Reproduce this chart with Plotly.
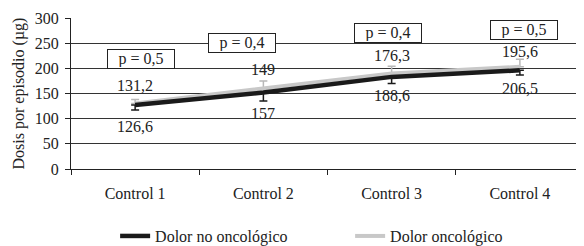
import plotly.graph_objects as go

categories = ["Control 1", "Control 2", "Control 3", "Control 4"]

# Plotted positions
no_onc_values = [127, 152, 183, 196]
onc_values = [130, 160, 190, 203]
no_onc_err_minus = [10, 17, 13, 9]
onc_err_plus = [8, 15, 14, 15]

# Printed data labels
no_onc_labels = ["126,6", "157", "188,6", "206,5"]
onc_labels = ["131,2", "149", "176,3", "195,6"]

# p-values
p_labels = ["p = 0,5", "p = 0,4", "p = 0,4", "p = 0,5"]
p_y = [219, 250, 271, 277]
p_xshift = [6, -21, -4, 4]
onc_label_shift = [18, 19, 18, 15]
no_onc_label_shift = [-21, -21, -19, -18]

y_ticks = [0, 50, 100, 150, 200, 250, 300]

FONT = "Liberation Serif"
TXT = "#222222"

fig = go.Figure()

fig.add_trace(go.Scatter(
    x=categories, y=onc_values, mode="lines", name="Dolor oncológico",
    line=dict(color="#c8c8c8", width=4), legendrank=2,
    error_y=dict(type="data", symmetric=False, array=onc_err_plus,
                 arrayminus=[0, 0, 0, 0], color="#b8b8b8", thickness=1.5, width=4),
))
fig.add_trace(go.Scatter(
    x=categories, y=no_onc_values, mode="lines", name="Dolor no oncológico",
    line=dict(color="#1a1a1a", width=4.5), legendrank=1,
    error_y=dict(type="data", symmetric=False, array=[0, 0, 0, 0],
                 arrayminus=no_onc_err_minus, color="#1a1a1a", thickness=1.5, width=4),
))

annotations = []
for c, v, t, s in zip(categories, no_onc_values, no_onc_labels, no_onc_label_shift):
    annotations.append(dict(x=c, y=v, text=t, showarrow=False, yshift=s,
                            font=dict(family=FONT, size=16, color=TXT)))
for c, v, t, s in zip(categories, onc_values, onc_labels, onc_label_shift):
    annotations.append(dict(x=c, y=v, text=t, showarrow=False, yshift=s,
                            font=dict(family=FONT, size=16, color=TXT)))
for c, yv, t, xs in zip(categories, p_y, p_labels, p_xshift):
    annotations.append(dict(x=c, y=yv, text=t, showarrow=False, xshift=xs,
                            bgcolor="white", bordercolor="#222222", borderwidth=1,
                            borderpad=1, width=64, height=16,
                            font=dict(family=FONT, size=16, color=TXT)))

# The page body adds an 8px offset, so the figure is laid out 8px up/left.
fig.update_layout(
    width=584, height=246,
    margin=dict(l=63, r=8, t=10, b=85, autoexpand=False),
    paper_bgcolor="white", plot_bgcolor="white",
    font=dict(family=FONT, size=16, color=TXT),
    showlegend=True,
    legend=dict(orientation="h", x=0.086, xanchor="left",
                yref="container", y=0.073, yanchor="middle",
                entrywidth=190, font=dict(family=FONT, size=16, color=TXT),
                bgcolor="rgba(0,0,0,0)"),
    annotations=annotations,
)
fig.update_xaxes(
    type="category", tickson="boundaries", ticks="outside", ticklen=5,
    tickcolor="#222222", showline=True, linecolor="#222222", linewidth=1,
    showgrid=False, ticklabelstandoff=10, range=[-0.5, 3.5], automargin=False,
)
fig.update_yaxes(
    range=[0, 300], tickvals=y_ticks, ticks="outside", ticklen=5,
    tickcolor="#222222", showline=True, linecolor="#222222", linewidth=1,
    showgrid=True, gridcolor="#333333", gridwidth=1, zeroline=False,
    ticklabelstandoff=3, automargin=False,
    title=dict(text="Dosis por episodio (µg)", standoff=6,
               font=dict(family=FONT, size=16, color=TXT)),
)

fig.write_html("out.html")
